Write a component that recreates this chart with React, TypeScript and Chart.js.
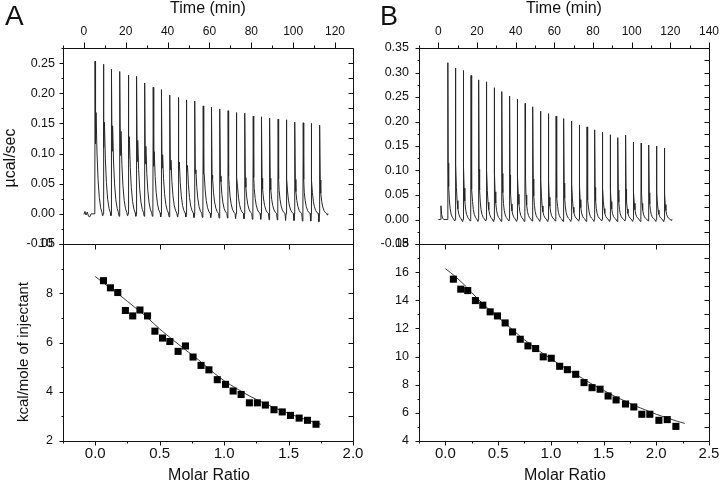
import React, { useEffect, useRef } from 'react';
import { Chart, registerables } from 'chart.js';

Chart.register(...registerables);

const FONT = "'Liberation Sans', Arial, Helvetica, sans-serif";
const INK = '#111111';
const TRACE = '#262626';

// ---------------- Panel A : raw thermogram ----------------
const timeTicksA = [0, 20, 40, 60, 80, 100, 120];
const powerTicksA = [-0.05, 0, 0.05, 0.1, 0.15, 0.2, 0.25];
const injTimesA = [5.2, 9.2, 13.1, 17.1, 21.1, 25.1, 29.0, 33.0, 37.0, 41.0, 45.0, 48.9, 52.9, 56.9, 60.9, 64.9, 68.8, 72.8, 76.8, 80.8, 84.8, 88.7, 92.7, 96.7, 100.7, 104.7, 108.6, 112.6];
const peakA = [0.253, 0.248, 0.240, 0.236, 0.230, 0.228, 0.217, 0.210, 0.206, 0.197, 0.193, 0.189, 0.187, 0.179, 0.177, 0.174, 0.171, 0.168, 0.167, 0.162, 0.161, 0.159, 0.157, 0.156, 0.152, 0.151, 0.150, 0.147];
const lowA = [0.116, 0.110, 0.104, 0.097, 0.091, 0.087, 0.083, 0.079, 0.076, 0.073, 0.071, 0.069, 0.067, 0.066, 0.064, 0.063, 0.062, 0.061, 0.060, 0.060, 0.059, 0.059, 0.058, 0.058, 0.057, 0.057, 0.056, 0.056];
const shoulderA = [0.168, 0.152, 0.146, 0.137, 0.128, 0.122, 0.112, 0.103, 0.098, 0.089, 0.086, 0.080, 0.073, 0.066, 0.058, 0.053, 0.049, 0.046, 0.044, 0.042, 0.041, 0.040, 0.039, 0.038, 0.037, 0.036, 0.035, 0.034];
const dipA = [-0.003, -0.003, -0.004, -0.003, -0.004, -0.004, -0.004, -0.005, -0.005, -0.005, -0.005, -0.006, -0.006, -0.006, -0.007, -0.007, -0.008, -0.008, -0.009, -0.009, -0.010, -0.010, -0.011, -0.011, -0.012, -0.012, -0.013, -0.002];
const preTimesA = [0, 0.5, 1.0, 1.6, 2.2, 2.8, 3.4, 4.4];
const preValuesA = [-0.001, 0.004, -0.002, 0.003, -0.004, -0.005, 0, 0];
const endTimeA = 116.8;
// peak shape (minutes after injection)
const peakAtA = 0.12, lowAtA = 0.35, shoulderAtA = 0.6;
const tailOffsetsA = [1.05, 1.55, 2.15, 2.8, 3.4];
const tailFractionsA = [0.6, 0.34, 0.16, 0.06, 0.015];

// ---------------- Panel A : isotherm ----------------
const ratioTicksA = [0, 0.5, 1, 1.5, 2];
const heatTicksA = [2, 4, 6, 8, 10];
const molarA = [0.064, 0.118, 0.175, 0.234, 0.291, 0.347, 0.406, 0.463, 0.522, 0.579, 0.643, 0.700, 0.759, 0.821, 0.882, 0.947, 1.011, 1.070, 1.132, 1.196, 1.258, 1.320, 1.387, 1.451, 1.515, 1.582, 1.647, 1.713];
const heatA = [8.51, 8.22, 8.03, 7.30, 7.08, 7.32, 7.08, 6.46, 6.18, 6.04, 5.64, 5.86, 5.41, 5.07, 4.89, 4.49, 4.30, 4.03, 3.89, 3.55, 3.55, 3.46, 3.27, 3.18, 3.04, 2.93, 2.84, 2.68];
const fitRatioA = [0, 0.1, 0.2, 0.3, 0.4, 0.5, 0.6, 0.7, 0.8, 0.9, 1.0, 1.1, 1.2, 1.3, 1.4, 1.5, 1.6, 1.7, 1.75];
const fitHeatA = [8.68, 8.28, 7.88, 7.46, 7.03, 6.55, 6.12, 5.70, 5.30, 4.85, 4.45, 4.12, 3.82, 3.56, 3.33, 3.12, 2.93, 2.76, 2.68];

// ---------------- Panel B : raw thermogram ----------------
const timeTicksB = [0, 20, 40, 60, 80, 100, 120, 140];
const powerTicksB = [-0.05, 0, 0.05, 0.1, 0.15, 0.2, 0.25, 0.3, 0.35];
const injTimesB = [4.8, 8.8, 12.8, 16.8, 20.8, 24.8, 28.8, 32.8, 36.8, 40.8, 44.8, 48.8, 52.8, 56.8, 60.8, 64.8, 68.8, 72.8, 76.8, 80.8, 84.8, 88.8, 92.8, 96.8, 100.8, 104.8, 108.8, 112.8, 116.8];
const peakB = [0.320, 0.309, 0.304, 0.294, 0.285, 0.281, 0.269, 0.261, 0.252, 0.246, 0.237, 0.230, 0.221, 0.216, 0.211, 0.206, 0.201, 0.193, 0.189, 0.183, 0.178, 0.173, 0.167, 0.172, 0.158, 0.156, 0.152, 0.150, 0.146];
const dipB = [-0.003, -0.004, -0.003, -0.004, -0.003, -0.004, -0.004, -0.003, -0.004, -0.004, -0.003, -0.004, -0.004, -0.003, -0.004, -0.004, -0.003, -0.004, -0.004, -0.003, -0.004, -0.004, -0.003, -0.004, -0.004, -0.003, -0.004, -0.004, -0.002];
const preTimesB = [0, 1.2, 1.35, 1.7, 2.2, 2.8, 3.5];
const preValuesB = [0, 0, 0.028, 0.010, 0.003, 0, 0];
const endTimeB = 121;
const peakAtB = 0.12;
const tailOffsetsB = [0.3, 0.55, 0.9, 1.3, 1.8, 2.4, 3.0];
const tailFractionsB = [0.36, 0.21, 0.125, 0.07, 0.035, 0.015, 0.004];
const dipAt = 3.7, settleAt = 3.9;

// ---------------- Panel B : isotherm ----------------
const ratioTicksB = [0, 0.5, 1, 1.5, 2, 2.5];
const heatTicksB = [4, 6, 8, 10, 12, 14, 16, 18];
const molarB = [0.076, 0.146, 0.212, 0.285, 0.355, 0.425, 0.494, 0.567, 0.637, 0.710, 0.783, 0.856, 0.928, 1.004, 1.084, 1.157, 1.236, 1.315, 1.391, 1.467, 1.543, 1.619, 1.708, 1.787, 1.863, 1.939, 2.025, 2.104, 2.186];
const heatB = [15.50, 14.79, 14.69, 13.98, 13.65, 13.18, 12.89, 12.39, 11.75, 11.23, 10.76, 10.57, 9.98, 9.88, 9.31, 9.07, 8.74, 8.15, 7.79, 7.68, 7.20, 6.92, 6.63, 6.42, 5.90, 5.90, 5.47, 5.52, 5.04];
const fitRatioB = [0, 0.1, 0.2, 0.3, 0.4, 0.5, 0.6, 0.7, 0.8, 0.9, 1.0, 1.1, 1.2, 1.3, 1.4, 1.5, 1.6, 1.7, 1.8, 1.9, 2.0, 2.1, 2.2, 2.27];
const fitHeatB = [16.25, 15.65, 14.95, 14.15, 13.45, 12.80, 12.15, 11.50, 10.90, 10.35, 9.85, 9.35, 8.90, 8.45, 8.00, 7.60, 7.20, 6.85, 6.50, 6.20, 5.90, 5.65, 5.40, 5.25];

type Pt = { x: number; y: number };

function traceA(): Pt[] {
  const pts: Pt[] = preTimesA.map((t, i) => ({ x: t, y: preValuesA[i] }));
  injTimesA.forEach((t0, i) => {
    pts.push({ x: t0, y: 0 });
    pts.push({ x: t0 + peakAtA, y: peakA[i] });
    pts.push({ x: t0 + lowAtA, y: lowA[i] });
    pts.push({ x: t0 + shoulderAtA, y: shoulderA[i] });
    tailOffsetsA.forEach((o, k) => pts.push({ x: t0 + o, y: shoulderA[i] * tailFractionsA[k] }));
    pts.push({ x: t0 + dipAt, y: dipA[i] });
    pts.push({ x: t0 + settleAt, y: 0 });
  });
  pts.push({ x: endTimeA, y: 0 });
  return pts;
}

function traceB(): Pt[] {
  const pts: Pt[] = preTimesB.map((t, i) => ({ x: t, y: preValuesB[i] }));
  injTimesB.forEach((t0, i) => {
    pts.push({ x: t0, y: 0 });
    pts.push({ x: t0 + peakAtB, y: peakB[i] });
    tailOffsetsB.forEach((o, k) => pts.push({ x: t0 + o, y: peakB[i] * tailFractionsB[k] }));
    pts.push({ x: t0 + dipAt, y: dipB[i] });
    pts.push({ x: t0 + settleAt, y: 0 });
  });
  pts.push({ x: endTimeB, y: 0 });
  return pts;
}

const zip = (xs: number[], ys: number[]): Pt[] => xs.map((x, i) => ({ x, y: ys[i] }));

type TextItem = { text: string; x: number; y: number; size: number; rotate?: boolean; align?: CanvasTextAlign; baseline?: CanvasTextBaseline };
type DecorOpts = {
  xSide: 'top' | 'bottom';
  xMajor: number; xMinor: number; xMirror: number;
  yMajor: number; yMinor: number; yRight: number;
  texts: TextItem[];
};

function minorValues(majors: number[], min: number, max: number): number[] {
  const out: number[] = [];
  if (majors.length < 2) return out;
  const step = majors[1] - majors[0];
  const first = majors[0] - step / 2;
  if (first >= min - 1e-9) out.push(first);
  for (let i = 0; i < majors.length - 1; i++) out.push((majors[i] + majors[i + 1]) / 2);
  const last = majors[majors.length - 1] + step / 2;
  if (last <= max + 1e-9) out.push(last);
  return out;
}

function decor(o: DecorOpts) {
  return {
    id: 'decor',
    afterDraw(chart: any) {
      const { ctx, chartArea: a, scales } = chart;
      const xs = scales.x, ys = scales.y;
      const L = Math.round(a.left) + 0.5, R = Math.round(a.right) + 0.5;
      const T = Math.round(a.top) + 0.5, B = Math.round(a.bottom) + 0.5;
      ctx.save();
      ctx.strokeStyle = INK;
      ctx.lineWidth = 1;
      ctx.beginPath();
      ctx.rect(L, T, R - L, B - T);
      const xMaj: number[] = xs.ticks.map((t: any) => t.value);
      const yMaj: number[] = ys.ticks.map((t: any) => t.value);
      const vx = (v: number) => Math.round(xs.getPixelForValue(v)) + 0.5;
      const hy = (v: number) => Math.round(ys.getPixelForValue(v)) + 0.5;
      const edge = o.xSide === 'top' ? T : B;
      const dir = o.xSide === 'top' ? -1 : 1;
      xMaj.forEach((v) => { const p = vx(v); ctx.moveTo(p, edge); ctx.lineTo(p, edge + dir * o.xMajor); });
      minorValues(xMaj, xs.min, xs.max).forEach((v) => { const p = vx(v); ctx.moveTo(p, edge); ctx.lineTo(p, edge + dir * o.xMinor); });
      if (o.xMirror > 0) {
        const e2 = o.xSide === 'top' ? B : T;
        xMaj.forEach((v) => { const p = vx(v); ctx.moveTo(p, e2); ctx.lineTo(p, e2 + dir * o.xMirror); });
      }
      const yMin = minorValues(yMaj, ys.min, ys.max);
      yMaj.forEach((v) => { const p = hy(v); ctx.moveTo(L, p); ctx.lineTo(L - o.yMajor, p); });
      yMin.forEach((v) => { const p = hy(v); ctx.moveTo(L, p); ctx.lineTo(L - o.yMinor, p); });
      [...yMaj, ...yMin].forEach((v) => { const p = hy(v); ctx.moveTo(R, p); ctx.lineTo(R - o.yRight, p); });
      ctx.stroke();
      ctx.fillStyle = INK;
      o.texts.forEach((t) => {
        ctx.save();
        ctx.font = `${t.size}px ${FONT}`;
        ctx.textAlign = t.align || 'center';
        ctx.textBaseline = t.baseline || 'alphabetic';
        ctx.translate(t.x, t.y);
        if (t.rotate) ctx.rotate(-Math.PI / 2);
        ctx.fillText(t.text, 0, 0);
        ctx.restore();
      });
      ctx.restore();
    },
  };
}

type AxisSpec = {
  min: number; max: number; ticks: number[]; size: number; fmt: (v: number) => string; font: number; pad: number;
};

function xAxis(position: 'top' | 'bottom', s: AxisSpec) {
  return {
    type: 'linear', position, min: s.min, max: s.max,
    grid: { display: false, drawTicks: false }, border: { display: false },
    afterBuildTicks: (ax: any) => { ax.ticks = s.ticks.map((v) => ({ value: v })); },
    afterFit: (ax: any) => { ax.height = s.size; ax.paddingLeft = 0; ax.paddingRight = 0; },
    ticks: { autoSkip: false, maxRotation: 0, minRotation: 0, padding: s.pad, color: INK, font: { size: s.font, family: FONT }, callback: (v: any) => s.fmt(Number(v)) },
  };
}

function yAxis(s: AxisSpec) {
  return {
    type: 'linear', position: 'left', min: s.min, max: s.max,
    grid: { display: false, drawTicks: false }, border: { display: false },
    afterBuildTicks: (ax: any) => { ax.ticks = s.ticks.map((v) => ({ value: v })); },
    afterFit: (ax: any) => { ax.width = s.size; ax.paddingTop = 0; ax.paddingBottom = 0; },
    ticks: { autoSkip: false, padding: s.pad, color: INK, font: { size: s.font, family: FONT }, callback: (v: any) => s.fmt(Number(v)) },
  };
}

function baseOptions(padding: any, x: any, y: any) {
  return {
    animation: false, responsive: false, devicePixelRatio: 1,
    layout: { padding },
    plugins: { legend: { display: false }, tooltip: { enabled: false }, title: { display: false } },
    scales: { x, y },
  };
}

const f2 = (v: number) => v.toFixed(2);
const f1 = (v: number) => v.toFixed(1);
const f0 = (v: number) => String(Math.round(v));

function thermoConfig(data: Pt[], padding: any, x: AxisSpec, y: AxisSpec, texts: TextItem[]) {
  return {
    type: 'line',
    data: { datasets: [{ data, borderColor: TRACE, borderWidth: 1, pointRadius: 0, tension: 0, fill: false }] },
    options: baseOptions(padding, xAxis('top', x), yAxis(y)),
    plugins: [decor({ xSide: 'top', xMajor: 6, xMinor: 3, xMirror: 0, yMajor: 4, yMinor: 2, yRight: 5, texts })],
  };
}

function isoConfig(pts: Pt[], fit: Pt[], padding: any, x: AxisSpec, y: AxisSpec, texts: TextItem[]) {
  return {
    type: 'line',
    data: {
      datasets: [
        { data: pts, showLine: false, pointStyle: 'rect', pointRadius: 5, pointBackgroundColor: '#000', pointBorderColor: '#000', pointBorderWidth: 0 },
        { data: fit, borderColor: '#3a3a3a', borderWidth: 1, pointRadius: 0, tension: 0.3, fill: false },
      ],
    },
    options: baseOptions(padding, xAxis('bottom', x), yAxis(y)),
    plugins: [decor({ xSide: 'bottom', xMajor: 4, xMinor: 2, xMirror: 5, yMajor: 4, yMinor: 2, yRight: 5, texts })],
  };
}

export default function App() {
  const r1 = useRef<HTMLCanvasElement>(null);
  const r2 = useRef<HTMLCanvasElement>(null);
  const r3 = useRef<HTMLCanvasElement>(null);
  const r4 = useRef<HTMLCanvasElement>(null);

  useEffect(() => {
    Chart.defaults.font.family = FONT;
    const charts: Chart[] = [];
    const cfgs: any[] = [
      thermoConfig(
        traceA(),
        { left: 0, right: 720 - 353, top: 0, bottom: 484 - 244 },
        { min: -10, max: 128.6, ticks: timeTicksA, size: 48, fmt: f0, font: 12, pad: 9 },
        { min: -0.05, max: 0.275, ticks: powerTicksA, size: 63, fmt: f2, font: 12.5, pad: 8 },
        [
          { text: 'A', x: 5, y: 25, size: 28, align: 'left' },
          { text: 'Time (min)', x: 208, y: 13, size: 16 },
          { text: 'µcal/sec', x: 11, y: 158, size: 16, rotate: true, baseline: 'middle' },
        ],
      ),
      isoConfig(
        zip(molarA, heatA), zip(fitRatioA, fitHeatA),
        { left: 0, right: 720 - 353, top: 244, bottom: 0 },
        { min: -0.25, max: 2.0, ticks: ratioTicksA, size: 484 - 441, fmt: f1, font: 15, pad: 4 },
        { min: 2, max: 10, ticks: heatTicksA, size: 63, fmt: f0, font: 12.5, pad: 10 },
        [
          { text: 'Molar Ratio', x: 209, y: 480, size: 16 },
          { text: 'kcal/mole of injectant', x: 24, y: 352, size: 15, rotate: true, baseline: 'middle' },
        ],
      ),
      thermoConfig(
        traceB(),
        { left: 356, right: 720 - 709, top: 0, bottom: 484 - 244 },
        { min: -10, max: 140, ticks: timeTicksB, size: 48, fmt: f0, font: 12, pad: 9 },
        { min: -0.05, max: 0.35, ticks: powerTicksB, size: 63, fmt: f2, font: 12.5, pad: 10 },
        [
          { text: 'B', x: 380, y: 24.5, size: 27, align: 'left' },
          { text: 'Time (min)', x: 564, y: 13, size: 16 },
        ],
      ),
      isoConfig(
        zip(molarB, heatB), zip(fitRatioB, fitHeatB),
        { left: 356, right: 720 - 709, top: 244, bottom: 0 },
        { min: -0.25, max: 2.5, ticks: ratioTicksB, size: 484 - 441, fmt: f1, font: 15, pad: 4 },
        { min: 4, max: 18, ticks: heatTicksB, size: 63, fmt: f0, font: 12.5, pad: 10 },
        [{ text: 'Molar Ratio', x: 565, y: 480, size: 16 }],
      ),
    ];
    [r1, r2, r3, r4].forEach((r, i) => {
      if (r.current) charts.push(new Chart(r.current, cfgs[i]));
    });
    return () => charts.forEach((c) => c.destroy());
  }, []);

  const cv: React.CSSProperties = { position: 'absolute', left: 0, top: 0, width: 720, height: 484 };
  return (
    <div style={{ position: 'absolute', left: 0, top: 0, width: 720, height: 484, background: '#fff', overflow: 'hidden' }}>
      <canvas ref={r1} width={720} height={484} style={cv} />
      <canvas ref={r2} width={720} height={484} style={cv} />
      <canvas ref={r3} width={720} height={484} style={cv} />
      <canvas ref={r4} width={720} height={484} style={cv} />
    </div>
  );
}
